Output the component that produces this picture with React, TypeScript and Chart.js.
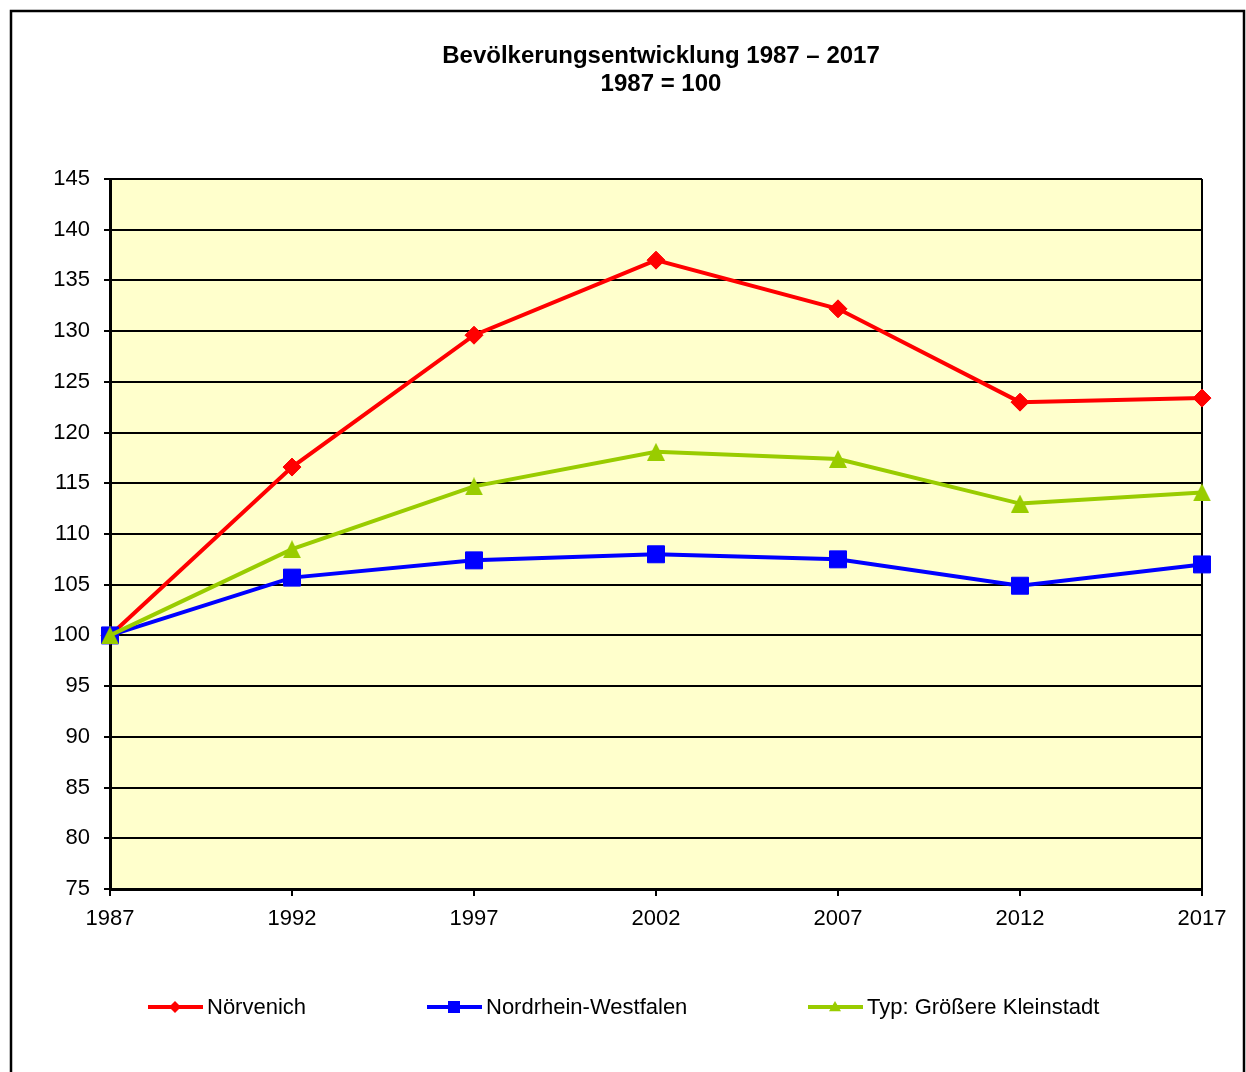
import React, { useEffect, useRef } from "react";
import { Chart, registerables } from "chart.js";

Chart.register(...registerables);

const years = ["1987", "1992", "1997", "2002", "2007", "2012", "2017"];
const noervenich = [100, 116.6, 129.6, 137.0, 132.2, 123.0, 123.4];
const nrw = [100, 105.7, 107.4, 108.0, 107.5, 104.9, 107.0];
const kleinstadt = [100, 108.5, 114.7, 118.1, 117.4, 113.0, 114.1];
const seriesNames = ["Nörvenich", "Nordrhein-Westfalen", "Typ: Größere Kleinstadt"];
const titleLines = ["Bevölkerungsentwicklung 1987 – 2017", "1987 = 100"];

const FONT = "Arial, 'Liberation Sans', sans-serif";
const RED = "#FF0000";
const BLUE = "#0000FF";
const GREEN = "#99CC00";

const legendPos = [148, 427, 808];

function makeTriangle(color: string, w: number, h: number) {
  const c = document.createElement("canvas");
  c.width = w;
  c.height = h;
  const g = c.getContext("2d")!;
  g.fillStyle = color;
  g.beginPath();
  g.moveTo(w / 2, 0);
  g.lineTo(w, h);
  g.lineTo(0, h);
  g.closePath();
  g.fill();
  return c;
}

function drawMarker(ctx: CanvasRenderingContext2D, style: string, x: number, y: number, s: number, color: string) {
  ctx.save();
  ctx.fillStyle = color;
  ctx.beginPath();
  if (style === "rectRot") {
    ctx.moveTo(x, y - s);
    ctx.lineTo(x + s, y);
    ctx.lineTo(x, y + s);
    ctx.lineTo(x - s, y);
    ctx.closePath();
  } else if (style === "rect") {
    ctx.rect(x - s, y - s, 2 * s, 2 * s);
  } else {
    ctx.moveTo(x, y - s);
    ctx.lineTo(x + s, y + s * 0.7);
    ctx.lineTo(x - s, y + s * 0.7);
    ctx.closePath();
  }
  ctx.fill();
  ctx.restore();
}

const decorPlugin = {
  id: "decor",
  beforeDraw(chart: any) {
    const { ctx, chartArea } = chart;
    ctx.save();
    ctx.fillStyle = "#ffffff";
    ctx.fillRect(0, 0, chart.width, chart.height);
    ctx.fillStyle = "#FFFFCC";
    ctx.fillRect(chartArea.left, chartArea.top, chartArea.right - chartArea.left, chartArea.bottom - chartArea.top);
    // outer frame
    ctx.strokeStyle = "#000";
    ctx.lineWidth = 2.5;
    ctx.strokeRect(11, 11, 1233, 1100);
    // title
    ctx.fillStyle = "#000";
    ctx.font = `bold 24px ${FONT}`;
    ctx.textAlign = "center";
    ctx.textBaseline = "middle";
    ctx.fillText(titleLines[0], 661, 56);
    ctx.fillText(titleLines[1], 661, 84);
    // legend
    const styles = ["rectRot", "rect", "triangle"];
    const colors = [RED, BLUE, GREEN];
    const sizes = [6, 6, 6];
    ctx.font = `22px ${FONT}`;
    ctx.textAlign = "left";
    for (let i = 0; i < 3; i++) {
      const x0 = legendPos[i];
      const y = 1007;
      ctx.strokeStyle = colors[i];
      ctx.lineWidth = 4;
      ctx.beginPath();
      ctx.moveTo(x0, y);
      ctx.lineTo(x0 + 55, y);
      ctx.stroke();
      drawMarker(ctx, styles[i], x0 + 27, y, sizes[i], colors[i]);
      ctx.fillStyle = "#000";
      ctx.fillText(seriesNames[i], x0 + 59, y + 1);
    }
    ctx.restore();
  },
  beforeDatasetsDraw(chart: any) {
    const { ctx, chartArea } = chart;
    ctx.save();
    ctx.strokeStyle = "#000";
    ctx.lineWidth = 2;
    ctx.beginPath();
    ctx.moveTo(chartArea.right, chartArea.top);
    ctx.lineTo(chartArea.right, chartArea.bottom + 7);
    ctx.stroke();
    ctx.restore();
  },
};

export default function App() {
  const ref = useRef<HTMLCanvasElement>(null);
  useEffect(() => {
    if (!ref.current) return;
    const tri = makeTriangle(GREEN, 18, 18);
    const chart = new Chart(ref.current, {
      type: "line",
      data: {
        labels: years,
        datasets: [
          {
            label: seriesNames[0],
            data: noervenich,
            borderColor: RED,
            backgroundColor: RED,
            borderWidth: 4,
            pointStyle: "rectRot",
            pointRadius: 9,
            pointBorderWidth: 1,
            tension: 0,
            order: 2,
            clip: false as any,
          },
          {
            label: seriesNames[1],
            data: nrw,
            borderColor: BLUE,
            backgroundColor: BLUE,
            borderWidth: 4,
            pointStyle: "rect",
            pointRadius: 12,
            pointBorderWidth: 1,
            tension: 0,
            order: 1,
            clip: false as any,
          },
          {
            label: seriesNames[2],
            data: kleinstadt,
            borderColor: GREEN,
            backgroundColor: GREEN,
            borderWidth: 4,
            pointStyle: tri as any,
            pointRadius: 9,
            pointBorderWidth: 0,
            tension: 0,
            order: 0,
            clip: false as any,
          },
        ],
      },
      options: {
        responsive: false,
        animation: false,
        layout: { padding: { top: 179, right: 44, bottom: 0, left: 0 } },
        plugins: {
          legend: { display: false },
          title: { display: false },
          tooltip: { enabled: false },
        },
        scales: {
          x: {
            type: "category",
            offset: false,
            afterFit: (s: any) => {
              s.height = 183;
            },
            grid: {
              drawOnChartArea: false,
              drawTicks: true,
              tickLength: 7,
              color: "#000",
              lineWidth: 2,
            },
            border: { display: true, color: "#000", width: 3 },
            ticks: {
              color: "#000",
              font: { family: FONT, size: 22 },
              padding: 10,
              maxRotation: 0,
              autoSkip: false,
            },
          },
          y: {
            min: 75,
            max: 145,
            afterFit: (s: any) => {
              s.width = 110;
            },
            grid: {
              drawOnChartArea: true,
              drawTicks: true,
              tickLength: 6,
              color: "#000",
              lineWidth: 2,
            },
            border: { display: true, color: "#000", width: 3 },
            ticks: {
              stepSize: 5,
              color: "#000",
              font: { family: FONT, size: 22 },
              padding: 14,
            },
          },
        },
      },
      plugins: [decorPlugin],
    });
    return () => chart.destroy();
  }, []);
  return (
    <div style={{ position: "absolute", left: 0, top: 0, width: 1246, height: 1072 }}>
      <canvas ref={ref} width={1246} height={1072} style={{ width: 1246, height: 1072 }} />
    </div>
  );
}
